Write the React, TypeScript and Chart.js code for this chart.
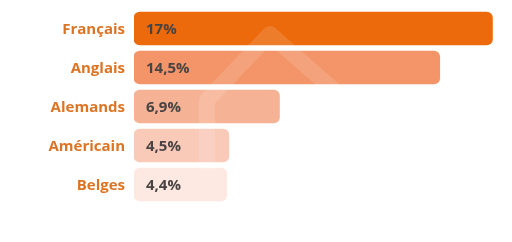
import React, { useEffect, useRef } from "react";
import { Chart, registerables } from "chart.js";

Chart.register(...registerables);

const categories = ["Français", "Anglais", "Alemands", "Américain", "Belges"];
const values = [17, 14.5, 6.9, 4.5, 4.4];
const valueLabels = ["17%", "14,5%", "6,9%", "4,5%", "4,4%"];
const barColors = ["#EC6A0C", "#F39568", "#F6B295", "#F9CAB8", "#FDE9E1"];

const FONT = "'Open Sans', 'Noto Sans', sans-serif";

export default function App() {
  const ref = useRef<HTMLCanvasElement | null>(null);
  useEffect(() => {
    document.body.style.margin = "0";
    const canvas = ref.current!;
    const valuePlugin = {
      id: "valueLabels",
      afterDatasetsDraw(chart: any) {
        const ctx = chart.ctx;
        const meta = chart.getDatasetMeta(0);
        const area = chart.chartArea;
        // watermark (house outline)
        ctx.save();
        ctx.beginPath();
        ctx.rect(area.left, area.top, area.right - area.left, area.bottom - area.top);
        ctx.clip();
        ctx.strokeStyle = "rgba(255,255,255,0.13)";
        ctx.lineWidth = 16;
        ctx.lineJoin = "round";
        ctx.lineCap = "butt";
        ctx.beginPath();
        ctx.moveTo(207, 170);
        ctx.lineTo(207, 100);
        ctx.lineTo(270, 34);
        ctx.lineTo(345, 100);
        ctx.lineTo(345, 170);
        ctx.stroke();
        ctx.restore();

        ctx.save();
        ctx.textBaseline = "middle";
        const yScale = chart.scales.y;
        ctx.font = `bold 15px ${FONT}`;
        ctx.fillStyle = "#DD7424";
        ctx.textAlign = "right";
        categories.forEach((c, i) => {
          ctx.fillText(c, area.left - 9, yScale.getPixelForValue(i) + 1);
        });
        ctx.fillStyle = "#4A4343";
        ctx.textAlign = "left";
        meta.data.forEach((bar: any, i: number) => {
          ctx.fillText(valueLabels[i], area.left + 12, bar.y + 1);
        });
        ctx.restore();
      },
    };
    const chart = new Chart(canvas, {
      type: "bar",
      data: {
        labels: categories,
        datasets: [
          {
            data: values,
            backgroundColor: barColors,
            borderRadius: 6,
            borderSkipped: false,
            barThickness: 33,
          },
        ],
      },
      options: {
        indexAxis: "y",
        animation: false,
        responsive: false,
        maintainAspectRatio: false,
        layout: { padding: { top: 9, bottom: 38, right: 9, left: 134 } },
        plugins: { legend: { display: false }, tooltip: { enabled: false } },
        scales: {
          x: {
            display: false,
            min: 0,
            max: 17.5,
          },
          y: {
            display: false,
          },
        },
      },
      plugins: [valuePlugin],
    });
    return () => chart.destroy();
  }, []);
  return <canvas ref={ref} width={512} height={242} style={{ display: "block" }} />;
}
